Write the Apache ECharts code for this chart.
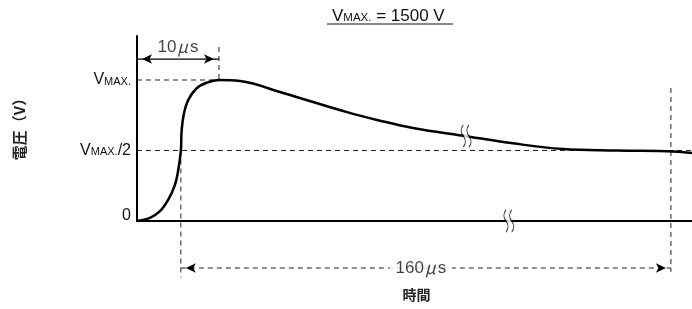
<!DOCTYPE html>
<html>
<head>
<meta charset="utf-8">
<script src="https://cdn.jsdelivr.net/npm/echarts@6/dist/echarts.min.js"></script>
<style>
  html, body { margin: 0; padding: 0; background: #fff; }
  #chart { width: 692px; height: 309px; }
</style>
</head>
<body>
<div id="chart"></div>
<script>
/*波形データ (横軸は模式的な時間スケール)*/
var curveT = [0, 2.34, 4.14, 5.64, 6.85, 7.44, 7.9, 8.05, 8.47, 9.24, 10.75, 12.56, 14.77, 18.56, 26.3, 37.84, 43.6, 49.7, 59.6, 67.75, 76.76, 86.5, 96.6, 100];
var curveV = [0, 34, 104, 228, 387, 546, 750, 970, 1147, 1288, 1412, 1471, 1500, 1489, 1362, 1158, 1070, 990, 900, 826, 766, 750, 739, 722];
var vMax = 1500;
var vHalf = 750;
var tHalf = 7.9;      // VMAX/2 到達点
var tPeak = 14.77;    // 10μs 点
var tEnd = 96.2;      // 160μs 点
var yTicks = [0, 750, 1500];
var breakCurve = [59.3, 905];
var breakAxis = [67.0, 0];

var FONT = '"Noto Sans CJK JP", "Noto Sans", sans-serif';
var LATIN = '"Liberation Sans", Arial, sans-serif';

function zip(a, b) {
    var out = [];
    for (var i = 0; i < a.length; i++) out.push([a[i], b[i]]);
    return out;
}

function dashed(data) {
    return {
        type: 'line',
        data: data,
        symbol: 'none',
        silent: true,
        clip: false,
        lineStyle: { color: '#222', width: 1, type: [5, 4] },
        z: 1
    };
}

/*両端矢印 (ヘッドの先端を端点に合わせる)*/
function arrowLine(y, x1, x2, dash) {
    return {
        type: 'line',
        silent: true,
        clip: false,
        symbolSize: [7, 10],
        lineStyle: { color: dash ? '#222' : '#000', width: dash ? 1 : 1.2, type: dash ? [5, 4] : 'solid' },
        itemStyle: { color: '#000' },
        data: [
            { value: [x1, y], symbol: 'arrow', symbolRotate: 90, symbolOffset: [5, 0] },
            { value: [x2, y], symbol: 'arrow', symbolRotate: -90, symbolOffset: [-5, 0] }
        ],
        z: 2
    };
}

var richMu = { u: { fontSize: 17, fontStyle: 'italic', fontFamily: FONT, color: '#111', padding: [0, 2, 0, 1] } };

var breakPath = 'path://M3,0 C0,4 0,8 3,12 C6,16 6,20 3,24 M9,0 C6,4 6,8 9,12 C12,16 12,20 9,24';

var chart = echarts.init(document.getElementById('chart'));
var option = {
    animation: false,
    textStyle: { fontFamily: FONT },
    grid: { left: 137, right: 0, top: 36, bottom: 88 },
    xAxis: {
        type: 'value',
        min: 0,
        max: 100,
        name: '時間',
        nameLocation: 'middle',
        nameGap: 67,
        nameTextStyle: { fontSize: 14, fontWeight: 'bold', color: '#222', padding: [0, 0, 0, 4] },
        axisLine: { lineStyle: { color: '#000', width: 2 } },
        axisTick: { show: false },
        axisLabel: { show: false },
        splitLine: { show: false }
    },
    yAxis: {
        type: 'value',
        min: 0,
        max: 1968,
        name: '電圧（V）',
        nameLocation: 'middle',
        nameRotate: 90,
        nameGap: 110,
        nameTextStyle: { fontSize: 15, fontWeight: 'bold', color: '#222', padding: [0, 0, 0, 6] },
        axisLine: { show: true, lineStyle: { color: '#000', width: 2 } },
        axisTick: { show: false },
        splitLine: { show: false },
        axisLabel: {
            customValues: yTicks,
            margin: 6,
            color: '#111',
            formatter: function (v) {
                if (v === 0) return '{z|0}';
                if (v === vMax) return '{v|V}{m|MAX.}';
                return '{v|V}{m|MAX.}{v|/2}';
            },
            rich: {
                v: { fontSize: 16, fontFamily: LATIN, color: '#111' },
                m: { fontSize: 11, fontFamily: LATIN, color: '#111', verticalAlign: 'bottom', padding: [0, 0, 1, 0] },
                z: { fontSize: 16, fontFamily: LATIN, color: '#111', padding: [0, 0, 10, 0] }
            }
        }
    },
    title: {
        text: '{v|V}{m|MAX.}{v| = 1500 V}',
        left: 327,
        top: 3,
        textStyle: {
            fontWeight: 'normal',
            rich: {
                v: { fontSize: 17, fontFamily: LATIN, color: '#111' },
                m: { fontSize: 11.5, fontFamily: LATIN, color: '#111', verticalAlign: 'bottom', padding: [0, 0, 1, 0] }
            }
        }
    },
    graphic: [
        { type: 'line', shape: { x1: 327, y1: 24, x2: 453, y2: 24 }, style: { stroke: '#111', lineWidth: 1 } }
    ],
    series: [
        dashed([[0, vMax], [tPeak, vMax]]),
        dashed([[0, vHalf], [100, vHalf]]),
        dashed([[tPeak, 1851], [tPeak, vMax]]),
        dashed([[tHalf, vHalf], [tHalf, -600]]),
        dashed([[tEnd, 1415], [tEnd, -540]]),
        arrowLine(1723, 0, tPeak, false),
        arrowLine(-500, tHalf, tEnd, true),
        {
            type: 'scatter',
            silent: true,
            clip: false,
            symbolSize: 0,
            data: [
                { value: [tPeak / 2, 1723], label: { formatter: '10{u|μ}s', offset: [0, -12] } },
                { value: [(tHalf + tEnd) / 2, -500], label: { formatter: '160{u|μ}s', backgroundColor: '#fff', padding: [0, 6], offset: [-5, 0] } }
            ],
            label: { show: true, position: 'inside', fontSize: 17, fontFamily: LATIN, color: '#111', rich: richMu },
            z: 6
        },
        {
            name: 'voltage',
            type: 'line',
            data: zip(curveT, curveV),
            symbol: 'none',
            smooth: 0.4,
            clip: false,
            lineStyle: { color: '#000', width: 2.5 },
            z: 3
        },
        {
            type: 'scatter',
            data: [breakCurve, breakAxis],
            symbol: 'rect',
            symbolSize: [5, 12],
            silent: true,
            itemStyle: { color: '#fff' },
            z: 4
        },
        {
            type: 'scatter',
            data: [breakCurve, breakAxis],
            symbol: breakPath,
            symbolSize: [10, 22],
            silent: true,
            itemStyle: { color: 'none', borderColor: '#000', borderWidth: 1.2 },
            z: 5
        }
    ]
};
chart.setOption(option);
</script>
</body>
</html>
